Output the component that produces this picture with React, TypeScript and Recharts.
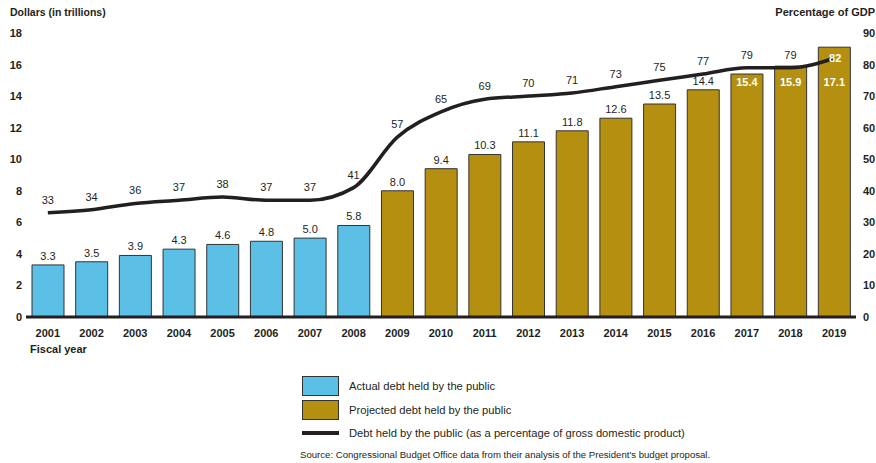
import { ComposedChart, Bar, Line, XAxis, YAxis, Cell, LabelList } from "recharts"

const years = ["2001", "2002", "2003", "2004", "2005", "2006", "2007", "2008", "2009", "2010", "2011", "2012", "2013", "2014", "2015", "2016", "2017", "2018", "2019"]
const debtTrillions = [3.3, 3.5, 3.9, 4.3, 4.6, 4.8, 5.0, 5.8, 8.0, 9.4, 10.3, 11.1, 11.8, 12.6, 13.5, 14.4, 15.4, 15.9, 17.1]
const percentGdp = [33, 34, 36, 37, 38, 37, 37, 41, 57, 65, 69, 70, 71, 73, 75, 77, 79, 79, 82]
const firstProjectedYear = "2009"
const dollarTicks = [0, 2, 4, 6, 8, 10, 12, 14, 16, 18]
const percentTicks = [0, 10, 20, 30, 40, 50, 60, 70, 80, 90]

const BLUE = "#5bbfe6"
const GOLD = "#b48f10"
const INK = "#231f20"
const FONT = "Arial, 'Liberation Sans', sans-serif"

const data = years.map((year, i) => ({
  year,
  debt: debtTrillions[i],
  pct: percentGdp[i],
  projected: Number(year) >= Number(firstProjectedYear),
}))

// bars whose labels sit inside the bar (line runs over their tops)
const insideFrom = 16

const LeftTick = (props: any) => {
  const { y, payload } = props
  return (
    <text x={22} y={y} dy={4} textAnchor="end" fontSize={11} fontWeight="bold" fill={INK} fontFamily={FONT}>
      {payload.value}
    </text>
  )
}

const RightTick = (props: any) => {
  const { y, payload } = props
  return (
    <text x={863} y={y} dy={4} textAnchor="start" fontSize={11} fontWeight="bold" fill={INK} fontFamily={FONT}>
      {payload.value}
    </text>
  )
}

const YearTick = (props: any) => {
  const { x, y, payload } = props
  return (
    <text x={x} y={y} dy={12} textAnchor="middle" fontSize={11} fontWeight="bold" fill={INK} fontFamily={FONT}>
      {payload.value}
    </text>
  )
}

const BarValueLabel = (props: any) => {
  const { x, y, width, value, index } = props
  const inside = index >= insideFrom
  return (
    <text
      x={x + width / 2}
      y={inside ? 86 : y - 5}
      textAnchor="middle"
      fontSize={11}
      fontWeight={inside ? "bold" : "normal"}
      fill={inside ? "#ffffff" : INK}
      fontFamily={FONT}
    >
      {Number(value).toFixed(1)}
    </text>
  )
}

const LineValueLabel = (props: any) => {
  const { x, y, value, index } = props
  const last = index === years.length - 1
  return (
    <text
      x={last ? x + 1 : x}
      y={last ? y + 4 : y - 9}
      textAnchor="middle"
      fontSize={11}
      fontWeight={last ? "bold" : "normal"}
      fill={last ? "#ffffff" : INK}
      fontFamily={FONT}
    >
      {value}
    </text>
  )
}

export default function App() {
  return (
    <div style={{ position: "relative", width: 876, height: 463, background: "#fff", fontFamily: FONT, color: INK }}>
      <style>{`body{margin:0}`}</style>
      <div style={{ position: "absolute", left: 10, top: 6, fontSize: 10.5, fontWeight: "bold" }}>Dollars (in trillions)</div>
      <div style={{ position: "absolute", right: 1, top: 6, fontSize: 11, fontWeight: "bold" }}>Percentage of GDP</div>
      <div style={{ position: "absolute", left: 30, top: 343, fontSize: 11, fontWeight: "bold" }}>Fiscal year</div>

      <ComposedChart width={876} height={463} data={data} margin={{ top: 33, right: 0, bottom: 116, left: 0 }} barCategoryGap={11}>
        <XAxis dataKey="year" height={30} axisLine={{ stroke: INK, strokeWidth: 3 }} tickLine={false} tick={<YearTick />} interval={0} />
        <YAxis yAxisId="left" domain={[0, 18]} ticks={dollarTicks} width={26} axisLine={false} tickLine={false} tick={<LeftTick />} />
        <YAxis yAxisId="right" orientation="right" domain={[0, 90]} ticks={percentTicks} width={20} axisLine={false} tickLine={false} tick={<RightTick />} />
        <Bar yAxisId="left" dataKey="debt" barSize={32} stroke="#333" strokeWidth={1} isAnimationActive={false}>
          {data.map((d, i) => (
            <Cell key={`c-${i}`} fill={d.projected ? GOLD : BLUE} />
          ))}
          <LabelList dataKey="debt" content={<BarValueLabel />} />
        </Bar>
        <Line yAxisId="right" dataKey="pct" type="monotone" stroke={INK} strokeWidth={3.5} dot={false} isAnimationActive={false}>
          <LabelList dataKey="pct" content={<LineValueLabel />} />
        </Line>
      </ComposedChart>

      <div style={{ position: "absolute", left: 302, top: 375, fontSize: 11.2 }}>
        <div style={{ display: "flex", alignItems: "center", height: 22 }}>
          <div style={{ width: 37, height: 20, background: BLUE, border: "1px solid #333", boxSizing: "border-box" }} />
          <span style={{ marginLeft: 10 }}>Actual debt held by the public</span>
        </div>
        <div style={{ display: "flex", alignItems: "center", height: 22, marginTop: 2 }}>
          <div style={{ width: 37, height: 20, background: GOLD, border: "1px solid #333", boxSizing: "border-box" }} />
          <span style={{ marginLeft: 10 }}>Projected debt held by the public</span>
        </div>
        <div style={{ display: "flex", alignItems: "center", height: 20, marginTop: 2 }}>
          <div style={{ width: 37, height: 4, background: INK }} />
          <span style={{ marginLeft: 10 }}>Debt held by the public (as a percentage of gross domestic product)</span>
        </div>
      </div>
      <div style={{ position: "absolute", left: 300, top: 449, fontSize: 9.6 }}>
        Source: Congressional Budget Office data from their analysis of the President's budget proposal.
      </div>
    </div>
  )
}
